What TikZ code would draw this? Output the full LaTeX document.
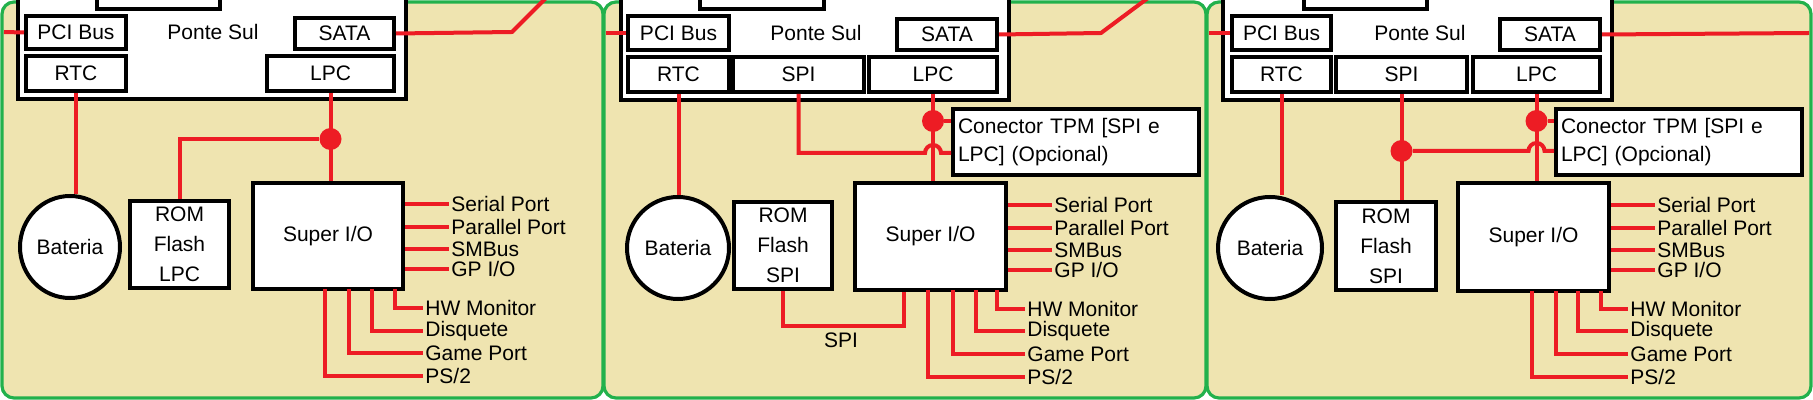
\documentclass[tikz,border=0pt]{standalone}
\usepackage{fontspec}
\setmainfont{Liberation Sans}
\usetikzlibrary{fit,calc,shapes.geometric}
\definecolor{painel}{HTML}{EFE4B0}
\definecolor{verde}{HTML}{22B14C}
\definecolor{vermelho}{HTML}{ED1C24}
\tikzset{
  panel/.style={draw=verde, line width=1.6pt, fill=painel, rounded corners=6pt},
  box/.style={draw=black, line width=2pt, fill=white, inner sep=0pt},
  bus/.style={draw=vermelho, line width=2pt},
  dot/.style={circle, fill=vermelho, inner sep=0pt, minimum size=11pt},
  lbl/.style={anchor=west, inner sep=1pt, font=\fontsize{10.5}{12}\selectfont},
  txt/.style={font=\fontsize{10.5}{12}\selectfont},
  tag/.style={label={[txt, align=center]center:#1}},
  tagl/.style={label={[txt, align=left, text width=118pt]center:#1}},
}
\begin{document}
\begin{tikzpicture}[x=0.5pt,y=-0.5pt]
    \useasboundingbox (0,0) rectangle (1813,400);
    % paineis
    \draw[panel] (2,2) rectangle (603,398);
    \draw[panel] (604,2) rectangle (1206,398);
    \draw[panel] (1207,2) rectangle (1811,398);

    % ---- painel 1 ----
    \node[box, fit={(18,-10) (406,99)}] (ps1) {};
    \node[box, fit={(97,-10) (220,9)}] (nb1) {};
    \node[txt] (psl1) at (213,32) {Ponte Sul};
    \node[box, fit={(26,16) (126,49)}, tag={PCI Bus}] (pci1) {};
    \node[box, fit={(295,18) (394,49)}, tag=SATA] (sata1) {};
    \node[box, fit={(26,56) (126,91)}, tag=RTC] (rtc1) {};
    \node[box, fit={(267,56) (394,91)}, tag=LPC] (lpc1) {};
    \node[box, ellipse, minimum width=50pt, minimum height=51pt, txt] (bat1) at (70,247) {Bateria};
    \node[box, fit={(130,201) (229,288)}, tag={ROM\\[3pt]Flash\\[3pt]LPC}] (rom1) {};
    \node[box, fit={(253,183) (403,289)}, tag={Super I/O}] (sio1) {};
    \coordinate (pin1) at (4,32);
    \coordinate (sa1) at (512,32);
    \coordinate (sb1) at (546,-2);
    \draw[bus] (pin1) -- (pci1.west);
    \draw[bus] (sata1.east) -- (sa1) -- (sb1);
    \draw[bus] (rtc1.south) -- (rtc1.south |- bat1.north);
    \draw[bus] (lpc1.south) -- (lpc1.south |- sio1.north);
    \node[dot] (j1) at (lpc1.south |- 0,139) {};
    \draw[bus] (j1) -| (rom1.north);
    \foreach \y/\t in {204/Serial Port, 227/Parallel Port, 249/SMBus, 269/{GP I/O}} {
      \node[lbl] (pa\y) at (449,\y) {\t};
      \draw[bus] (sio1.east |- pa\y) -- (pa\y.west);
    }
    \foreach \x/\y/\t in {395/308/HW Monitor, 372/331/Disquete, 349/353/Game Port, 325/376/{PS/2}} {
      \node[lbl] (pb\y) at (423,\y) {\t};
      \draw[bus] (\x,289) |- (pb\y.west);
    }

    % ---- painel 2 ----
    \node[box, fit={(621,-10) (1009,100)}] (ps2) {};
    \node[box, fit={(700,-10) (824,9)}] (nb2) {};
    \node[txt] (psl2) at (816,33) {Ponte Sul};
    \node[box, fit={(628,16) (729,50)}, tag={PCI Bus}] (pci2) {};
    \node[box, fit={(897,19) (997,50)}, tag=SATA] (sata2) {};
    \node[box, fit={(628,57) (729,92)}, tag=RTC] (rtc2) {};
    \node[box, fit={(733,57) (864,92)}, tag=SPI] (spi2) {};
    \node[box, fit={(869,57) (997,92)}, tag=LPC] (lpc2) {};
    \node[box, ellipse, minimum width=51pt, minimum height=51pt, txt] (bat2) at (678,248) {Bateria};
    \node[box, fit={(734,202) (832,289)}, tag={ROM\\[3pt]Flash\\[3pt]SPI}] (rom2) {};
    \node[box, fit={(855,183) (1006,290)}, tag={Super I/O}] (sio2) {};
    \node[box, fit={(953,109) (1199,175)}, tagl={Conector TPM [SPI e\\[2pt]LPC] (Opcional)}] (tpm2) {};
    \coordinate (pin2) at (606,33);
    \coordinate (sa2) at (1101,33);
    \coordinate (sb2) at (1148,-2);
    \draw[bus] (pin2) -- (pci2.west);
    \draw[bus] (sata2.east) -- (sa2) -- (sb2);
    \draw[bus] (rtc2.south) -- (rtc2.south |- bat2.north);
    \draw[bus] (lpc2.south) -- (lpc2.south |- sio2.north);
    \node[dot] (j2) at (lpc2.south |- 0,121) {};
    \draw[bus] (j2) -- (j2 -| tpm2.west);
    \draw[bus] (spi2.south) |- ($(lpc2.south |- 0,153)+(-4pt,0)$) arc(180:0:4pt) -- (tpm2.west |- 0,153);
    \coordinate (k2) at (904,326);
    \draw[bus] (rom2.south) |- (k2) -- (k2 |- sio2.south);
    \node[txt] (spil2) at (841,340) {SPI};
    \foreach \y/\t in {205/Serial Port, 228/Parallel Port, 250/SMBus, 270/{GP I/O}} {
      \node[lbl] (qa\y) at (1052,\y) {\t};
      \draw[bus] (sio2.east |- qa\y) -- (qa\y.west);
    }
    \foreach \x/\y/\t in {997/309/HW Monitor, 976/331/Disquete, 953/354/Game Port, 928/377/{PS/2}} {
      \node[lbl] (qb\y) at (1025,\y) {\t};
      \draw[bus] (\x,290) |- (qb\y.west);
    }

    % ---- painel 3 ----
    \node[box, fit={(1223,-10) (1612,100)}] (ps3) {};
    \node[box, fit={(1304,-10) (1427,9)}] (nb3) {};
    \node[txt] (psl3) at (1420,33) {Ponte Sul};
    \node[box, fit={(1232,16) (1331,50)}, tag={PCI Bus}] (pci3) {};
    \node[box, fit={(1500,19) (1600,50)}, tag=SATA] (sata3) {};
    \node[box, fit={(1232,57) (1331,92)}, tag=RTC] (rtc3) {};
    \node[box, fit={(1336,57) (1467,92)}, tag=SPI] (spi3) {};
    \node[box, fit={(1473,57) (1600,92)}, tag=LPC] (lpc3) {};
    \node[box, ellipse, minimum width=52pt, minimum height=51pt, txt] (bat3) at (1270,248) {Bateria};
    \node[box, fit={(1336,202) (1436,290)}, tag={ROM\\[3pt]Flash\\[3pt]SPI}] (rom3) {};
    \node[box, fit={(1458,183) (1609,291)}, tag={Super I/O}] (sio3) {};
    \node[box, fit={(1556,109) (1802,175)}, tagl={Conector TPM [SPI e\\[2pt]LPC] (Opcional)}] (tpm3) {};
    \coordinate (pin3) at (1209,33);
    \coordinate (sa3) at (1809,33);
    \draw[bus] (pin3) -- (pci3.west);
    \draw[bus] (sata3.east) -- (sa3);
    \draw[bus] (rtc3.south) -- (rtc3.south |- bat3.north);
    \draw[bus] (lpc3.south) -- (lpc3.south |- sio3.north);
    \node[dot] (j3) at (lpc3.south |- 0,121) {};
    \draw[bus] (j3) -- (j3 -| tpm3.west);
    \draw[bus] (spi3.south) -- (spi3.south |- rom3.north);
    \node[dot] (k3) at (spi3.south |- 0,151) {};
    \draw[bus] (k3) -- ($(lpc3.south |- 0,151)+(-4pt,0)$) arc(180:0:4pt) -- (tpm3.west |- 0,151);
    \foreach \y/\t in {205/Serial Port, 228/Parallel Port, 250/SMBus, 270/{GP I/O}} {
      \node[lbl] (ra\y) at (1655,\y) {\t};
      \draw[bus] (sio3.east |- ra\y) -- (ra\y.west);
    }
    \foreach \x/\y/\t in {1601/309/HW Monitor, 1578/331/Disquete, 1556/354/Game Port, 1532/377/{PS/2}} {
      \node[lbl] (rb\y) at (1628,\y) {\t};
      \draw[bus] (\x,291) |- (rb\y.west);
    }
\end{tikzpicture}
\end{document}
